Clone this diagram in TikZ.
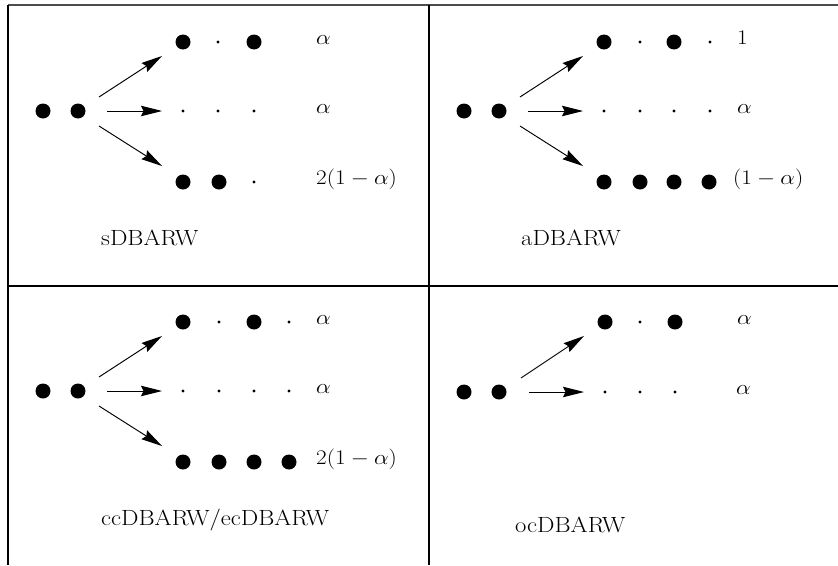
\documentclass[tikz,border=0pt]{standalone}
\usepackage{graphicx}
\usetikzlibrary{arrows.meta}
\newcommand\widetxt[1]{\scalebox{1.12}[1]{#1}}
\tikzset{
  bigdot/.style={circle,fill=black,inner sep=0pt,minimum size=15pt},
  smalldot/.style={circle,fill=black,inner sep=0pt,minimum size=3.4pt},
  lbl/.style={anchor=mid west,inner sep=0pt,font=\fontsize{22}{26}\selectfont},
  ttl/.style={anchor=base west,inner sep=0pt,font=\fontsize{22}{26}\selectfont},
  arr/.style={-{Stealth[length=21pt,width=10.5pt,inset=2.5pt]},line width=0.95pt},
  gridline/.style={line width=1.1pt}
}
\begin{document}
\begin{tikzpicture}[x=1pt,y=-1pt]
\useasboundingbox (0,0) rectangle (838,565);
% table lines
\draw[gridline,black!70] (8,5) -- (838,5);
\draw[gridline] (8,286) -- (838,286);
\draw[gridline] (8,5) -- (8,565);
\draw[gridline] (429,5) -- (429,565);

% ---------- cell 1 ----------
\begin{scope}[name prefix=a-]
  \node[bigdot] (l1) at (43,111) {};
  \node[bigdot] (l2) at (78,111) {};
  \coordinate (su) at (99,97);  \coordinate (eu) at (162,56);
  \coordinate (sm) at (107,111); \coordinate (em) at (162,111);
  \coordinate (sd) at (99,126); \coordinate (ed) at (162,166);
  \draw[arr] (su) -- (eu);
  \draw[arr] (sm) -- (em);
  \draw[arr] (sd) -- (ed);
  \node[bigdot] (t1) at (183,42) {};
  \node[smalldot] (t2) at (218,42) {};
  \node[bigdot] (t3) at (254,42) {};
  \node[lbl] (tl) at (316,42) {\widetxt{$\alpha$}};
  \node[smalldot] (m1) at (183,111) {};
  \node[smalldot] (m2) at (218,111) {};
  \node[smalldot] (m3) at (254,111) {};
  \node[lbl] (ml) at (316,111) {\widetxt{$\alpha$}};
  \node[bigdot] (b1) at (183,182) {};
  \node[bigdot] (b2) at (219,182) {};
  \node[smalldot] (b3) at (254,182) {};
  \node[lbl] (bl) at (316,182) {\widetxt{$2(1-\alpha)$}};
  \node[ttl] (title) at (101,245) {\widetxt{sDBARW}};
\end{scope}

% ---------- cell 2 ----------
\begin{scope}[shift={(421,0)},name prefix=b-]
  \node[bigdot] (l1) at (43,111) {};
  \node[bigdot] (l2) at (78,111) {};
  \coordinate (su) at (99,97);  \coordinate (eu) at (162,56);
  \coordinate (sm) at (107,111); \coordinate (em) at (162,111);
  \coordinate (sd) at (99,126); \coordinate (ed) at (162,166);
  \draw[arr] (su) -- (eu);
  \draw[arr] (sm) -- (em);
  \draw[arr] (sd) -- (ed);
  \node[bigdot] (t1) at (183,42) {};
  \node[smalldot] (t2) at (219,42) {};
  \node[bigdot] (t3) at (253,42) {};
  \node[smalldot] (t4) at (289,42) {};
  \node[lbl] (tl) at (316,42) {\widetxt{$1$}};
  \node[smalldot] (m1) at (183,111) {};
  \node[smalldot] (m2) at (219,111) {};
  \node[smalldot] (m3) at (253,111) {};
  \node[smalldot] (m4) at (289,111) {};
  \node[lbl] (ml) at (316,111) {\widetxt{$\alpha$}};
  \node[bigdot] (b1) at (183,182) {};
  \node[bigdot] (b2) at (219,182) {};
  \node[bigdot] (b3) at (253,182) {};
  \node[bigdot] (b4) at (288,182) {};
  \node[lbl] (bl) at (312,182) {\widetxt{$(1-\alpha)$}};
  \node[ttl] (title) at (100,245) {\widetxt{aDBARW}};
\end{scope}

% ---------- cell 3 ----------
\begin{scope}[shift={(0,280)},name prefix=c-]
  \node[bigdot] (l1) at (43,111) {};
  \node[bigdot] (l2) at (78,111) {};
  \coordinate (su) at (99,97);  \coordinate (eu) at (162,56);
  \coordinate (sm) at (107,111); \coordinate (em) at (162,111);
  \coordinate (sd) at (99,126); \coordinate (ed) at (162,166);
  \draw[arr] (su) -- (eu);
  \draw[arr] (sm) -- (em);
  \draw[arr] (sd) -- (ed);
  \node[bigdot] (t1) at (183,42) {};
  \node[smalldot] (t2) at (219,42) {};
  \node[bigdot] (t3) at (254,42) {};
  \node[smalldot] (t4) at (289,42) {};
  \node[lbl] (tl) at (316,42) {\widetxt{$\alpha$}};
  \node[smalldot] (m1) at (183,111) {};
  \node[smalldot] (m2) at (219,111) {};
  \node[smalldot] (m3) at (254,111) {};
  \node[smalldot] (m4) at (289,111) {};
  \node[lbl] (ml) at (316,111) {\widetxt{$\alpha$}};
  \node[bigdot] (b1) at (183,182) {};
  \node[bigdot] (b2) at (219,182) {};
  \node[bigdot] (b3) at (254,182) {};
  \node[bigdot] (b4) at (289,182) {};
  \node[lbl] (bl) at (316,182) {\widetxt{$2(1-\alpha)$}};
  \node[ttl] (title) at (101,245) {\widetxt{ccDBARW/ecDBARW}};
\end{scope}

% ---------- cell 4 ----------
\begin{scope}[shift={(421,280)},name prefix=d-]
  \node[bigdot] (l1) at (43,112) {};
  \node[bigdot] (l2) at (78,112) {};
  \coordinate (su) at (100,98);  \coordinate (eu) at (163,56);
  \coordinate (sm) at (108,112); \coordinate (em) at (163,112);
  \draw[arr] (su) -- (eu);
  \draw[arr] (sm) -- (em);
  \node[bigdot] (t1) at (184,42) {};
  \node[smalldot] (t2) at (219,42) {};
  \node[bigdot] (t3) at (254,42) {};
  \node[lbl] (tl) at (316,42) {\widetxt{$\alpha$}};
  \node[smalldot] (m1) at (184,112) {};
  \node[smalldot] (m2) at (219,112) {};
  \node[smalldot] (m3) at (254,112) {};
  \node[lbl] (ml) at (315,112) {\widetxt{$\alpha$}};
  \node[ttl] (title) at (94,252) {\widetxt{ocDBARW}};
\end{scope}
\end{tikzpicture}
\end{document}
